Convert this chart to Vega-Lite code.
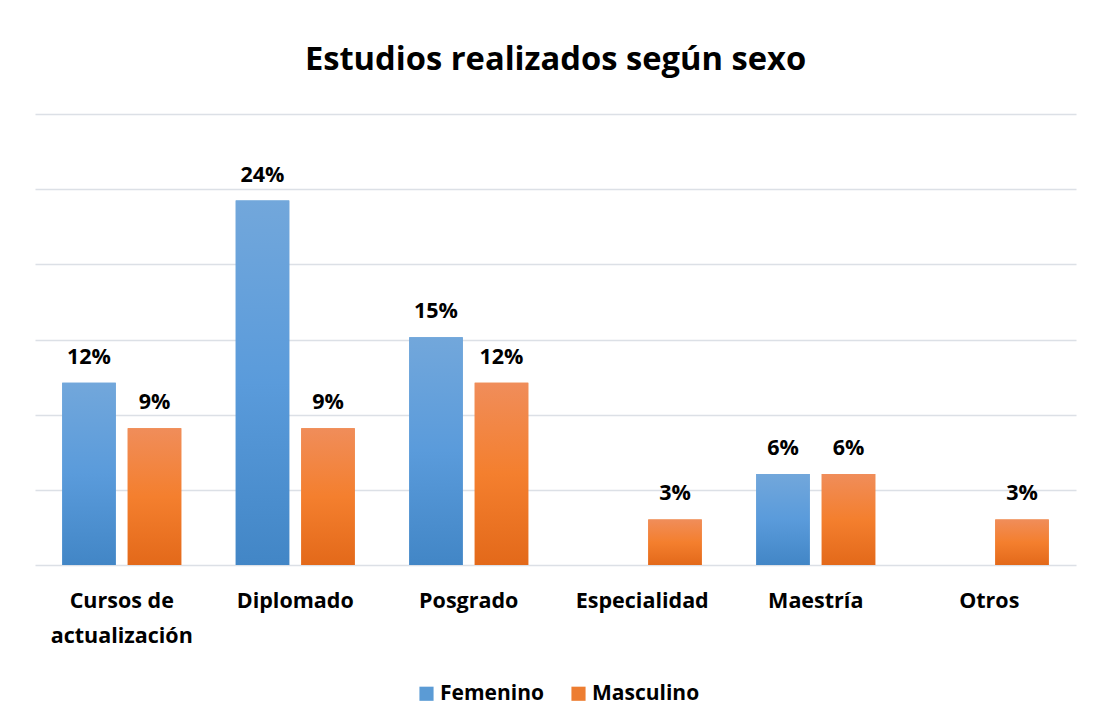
{
  "$schema": "https://vega.github.io/schema/vega-lite/v6.json",
  "width": 1041,
  "height": 451,
  "autosize": "none",
  "padding": {"left": 35, "top": 114, "right": 17, "bottom": 162},
  "background": "white",
  "title": {
    "text": "Estudios realizados según sexo",
    "font": "Open Sans",
    "fontSize": 32.7,
    "fontWeight": "bold",
    "color": "#000000",
    "anchor": "middle",
    "offset": 37
  },
  "config": {
    "view": {"stroke": null},
    "axis": {"labelFont": "Open Sans", "labelFontWeight": "bold", "labelColor": "#000000"},
    "legend": {"labelFont": "Open Sans", "labelFontWeight": "bold", "labelColor": "#000000"}
  },
  "data": {
    "values": [
      {"estudio": "Cursos de actualización", "sexo": "Femenino", "valor": 0.1212},
      {"estudio": "Cursos de actualización", "sexo": "Masculino", "valor": 0.0909},
      {"estudio": "Diplomado", "sexo": "Femenino", "valor": 0.2424},
      {"estudio": "Diplomado", "sexo": "Masculino", "valor": 0.0909},
      {"estudio": "Posgrado", "sexo": "Femenino", "valor": 0.1515},
      {"estudio": "Posgrado", "sexo": "Masculino", "valor": 0.1212},
      {"estudio": "Especialidad", "sexo": "Femenino", "valor": 0},
      {"estudio": "Especialidad", "sexo": "Masculino", "valor": 0.0303},
      {"estudio": "Maestría", "sexo": "Femenino", "valor": 0.0606},
      {"estudio": "Maestría", "sexo": "Masculino", "valor": 0.0606},
      {"estudio": "Otros", "sexo": "Femenino", "valor": 0},
      {"estudio": "Otros", "sexo": "Masculino", "valor": 0.0303}
    ]
  },
  "encoding": {
    "x": {
      "field": "estudio",
      "type": "nominal",
      "sort": null,
      "scale": {"paddingInner": 0.314, "paddingOuter": 0.157},
      "axis": {
        "title": null,
        "domain": false,
        "ticks": false,
        "labelAngle": 0,
        "labelFontSize": 21.5,
        "labelPadding": 25,
        "labelLineHeight": 35,
        "labelExpr": "datum.label == 'Cursos de actualización' ? ['Cursos de', 'actualización'] : datum.label"
      }
    },
    "xOffset": {
      "field": "sexo",
      "type": "nominal",
      "scale": {"domain": ["Femenino", "Masculino"], "paddingInner": 0.183, "paddingOuter": 0}
    },
    "y": {
      "field": "valor",
      "type": "quantitative",
      "scale": {"domain": [0, 0.3], "nice": false},
      "axis": {
        "title": null,
        "domain": false,
        "ticks": false,
        "labels": false,
        "grid": true,
        "gridColor": "#DCE0E6",
        "gridWidth": 1.3,
        "values": [0, 0.05, 0.1, 0.15, 0.2, 0.25, 0.3]
      }
    }
  },
  "layer": [
    {
      "mark": {"type": "bar"},
      "encoding": {
        "color": {
          "field": "sexo",
          "type": "nominal",
          "scale": {"domain": ["Femenino", "Masculino"], "range": ["#5B9BD5", "#ED7D31"]},
          "legend": {
            "title": null,
            "orient": "none",
            "legendX": 381,
            "legendY": 569,
            "padding": 0,
            "direction": "horizontal",
            "symbolType": "square",
            "symbolSize": 200,
            "symbolStrokeWidth": 0,
            "labelFontSize": 21,
            "labelOffset": 3,
            "columnPadding": 24
          }
        }
      }
    },
    {
      "transform": [{"filter": "datum.sexo == 'Femenino'"}],
      "mark": {
        "type": "bar",
        "color": {
          "gradient": "linear",
          "x1": 0, "y1": 0, "x2": 0, "y2": 1,
          "stops": [
            {"offset": 0, "color": "#72A7DB"},
            {"offset": 0.5, "color": "#5A9BDB"},
            {"offset": 1, "color": "#4286C6"}
          ]
        }
      }
    },
    {
      "transform": [{"filter": "datum.sexo == 'Masculino'"}],
      "mark": {
        "type": "bar",
        "color": {
          "gradient": "linear",
          "x1": 0, "y1": 0, "x2": 0, "y2": 1,
          "stops": [
            {"offset": 0, "color": "#F08D5A"},
            {"offset": 0.5, "color": "#F47F2E"},
            {"offset": 1, "color": "#E3691A"}
          ]
        }
      }
    },
    {
      "transform": [{"filter": "datum.valor > 0"}],
      "mark": {
        "type": "text",
        "font": "Open Sans",
        "fontWeight": "bold",
        "fontSize": 21.5,
        "color": "#000000",
        "baseline": "alphabetic",
        "align": "center",
        "dy": -19
      },
      "encoding": {
        "text": {"field": "valor", "type": "quantitative", "format": ".0%"}
      }
    }
  ]
}
